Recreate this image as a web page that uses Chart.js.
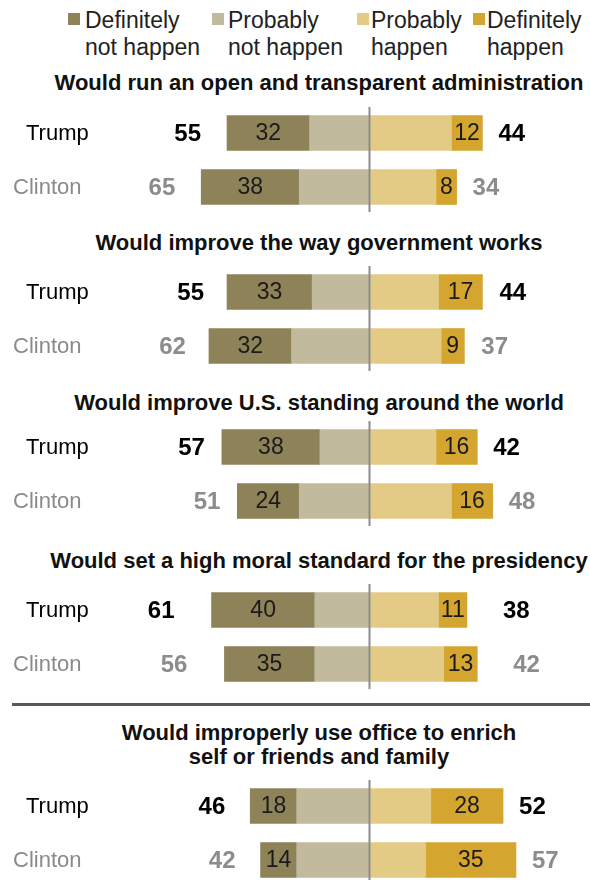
<!DOCTYPE html>
<html>
<head>
<meta charset="utf-8">
<script src="https://cdn.jsdelivr.net/npm/chart.js"></script>
<style>
  html,body{margin:0;padding:0;background:#fff;}
  body{width:590px;height:880px;position:relative;overflow:hidden;font-family:"Liberation Sans",Arial,sans-serif;}
  .leg{position:absolute;top:7px;font-size:23px;line-height:27px;color:#222;white-space:nowrap;}
  .sw{position:absolute;top:13px;width:12px;height:12px;}
  .title{position:absolute;left:0;width:638px;text-align:center;font-weight:bold;font-size:22px;line-height:24px;color:#111;white-space:nowrap;}
  canvas{position:absolute;left:0;}
  .divider{position:absolute;left:12px;top:703px;width:578px;height:3px;background:#595959;}
</style>
</head>
<body>
<div id="legend"></div>
<div id="titles"></div>
<div class="divider"></div>
<div id="charts"></div>
<script>
// ---- data ----
const legendLabels = [["Definitely","not happen"],["Probably","not happen"],["Probably","happen"],["Definitely","happen"]];
const questions = [
  ["Would run an open and transparent administration"],
  ["Would improve the way government works"],
  ["Would improve U.S. standing around the world"],
  ["Would set a high moral standard for the presidency"],
  ["Would improperly use office to enrich","self or friends and family"]
];
const candidates = ["Trump","Clinton"];
// [Trump, Clinton] per question
const defNot    = [[32,38],[33,32],[38,24],[40,35],[18,14]];
const probNot   = [[23,27],[22,30],[19,27],[21,21],[28,28]];
const probYes   = [[32,26],[27,28],[26,32],[27,29],[24,22]];
const defYes    = [[12,8],[17,9],[16,16],[11,13],[28,35]];
const notTotal  = [[55,65],[55,62],[57,51],[61,56],[46,42]];
const yesTotal  = [[44,34],[44,37],[42,48],[38,42],[52,57]];

// ---- layout / style ----
const colors = ["#8E8259","#C1BA9C","#E3CB85","#D4A52F"];
const legendSwatchX = [68,212,357,473];
const legendTextX = [85,228,371,487];
const titleTop = [71,231,391,549,721];
const chartTop = [106,265,420,583,779];
const totalGap = [[26,16],[23,17],[17,16],[37,36],[25,16]];
const nameX = [26,13];
const nameColor = ["#000000","#8A8A8A"];
const totalColor = ["#000000","#8C8C8C"];
const FONT = '"Liberation Sans", Arial, sans-serif';

// legend
const leg = document.getElementById('legend');
legendLabels.forEach((l,i)=>{
  const s=document.createElement('div'); s.className='sw';
  s.style.left=legendSwatchX[i]+'px'; s.style.background=colors[i]; leg.appendChild(s);
  const t=document.createElement('div'); t.className='leg';
  t.style.left=legendTextX[i]+'px'; t.innerHTML=l.join('<br>'); leg.appendChild(t);
});
// titles
const tt = document.getElementById('titles');
questions.forEach((q,i)=>{
  const d=document.createElement('div'); d.className='title';
  d.style.top=titleTop[i]+'px'; d.innerHTML=q.join('<br>'); tt.appendChild(d);
});

const overlay = {
  id:'overlay',
  afterDatasetsDraw(chart){
    const g = chart.options.plugins.overlay.group;
    const ctx = chart.ctx, xs = chart.scales.x, ys = chart.scales.y, ca = chart.chartArea;
    ctx.save();
    // center line
    const cx = Math.round(xs.getPixelForValue(0))+0.5;
    ctx.strokeStyle='#8C8C8C'; ctx.lineWidth=2;
    ctx.beginPath(); ctx.moveTo(cx, ca.top+1); ctx.lineTo(cx, ca.top+106); ctx.stroke();
    ctx.textBaseline='middle';
    // inner values for "definitely" segments
    ctx.fillStyle='#1a1a1a'; ctx.textAlign='center';
    ctx.font = '23px '+FONT;
    [1,3].forEach(di=>{
      const meta = chart.getDatasetMeta(di);
      meta.data.forEach((bar,j)=>{
        const v = Math.abs(chart.data.datasets[di].data[j]);
        ctx.fillText(String(v),(bar.x+bar.base)/2, bar.y+1);
      });
    });
    candidates.forEach((c,j)=>{
      const y = ys.getPixelForValue(j)+1;
      ctx.font='22px '+FONT; ctx.fillStyle=nameColor[j]; ctx.textAlign='left';
      ctx.fillText(c, nameX[j], y);
      ctx.font='bold 24px '+FONT; ctx.fillStyle=totalColor[j];
      ctx.textAlign='right';
      ctx.fillText(String(notTotal[g][j]), xs.getPixelForValue(-notTotal[g][j]) - totalGap[g][0], y);
      ctx.textAlign='left';
      ctx.fillText(String(yesTotal[g][j]), xs.getPixelForValue(yesTotal[g][j]) + totalGap[g][1], y);
    });
    ctx.restore();
  }
};

const holder = document.getElementById('charts');
questions.forEach((q,g)=>{
  const cv = document.createElement('canvas');
  cv.width=590; cv.height=108; cv.style.top=chartTop[g]+'px';
  holder.appendChild(cv);
  new Chart(cv,{
    type:'bar',
    data:{
      labels:candidates,
      datasets:[
        {label:legendLabels[1].join(' '), data:probNot[g].map(v=>-v), backgroundColor:colors[1]},
        {label:legendLabels[0].join(' '), data:defNot[g].map(v=>-v), backgroundColor:colors[0]},
        {label:legendLabels[2].join(' '), data:probYes[g], backgroundColor:colors[2]},
        {label:legendLabels[3].join(' '), data:defYes[g], backgroundColor:colors[3]}
      ]
    },
    options:{
      indexAxis:'y', responsive:false, animation:false,
      layout:{padding:0},
      datasets:{bar:{barThickness:35, borderWidth:0, borderSkipped:false}},
      scales:{
        x:{display:false, stacked:true, min:-143, max:85.7},
        y:{display:false, stacked:true}
      },
      plugins:{legend:{display:false}, tooltip:{enabled:false}, overlay:{group:g}}
    },
    plugins:[overlay]
  });
});
</script>
</body>
</html>
